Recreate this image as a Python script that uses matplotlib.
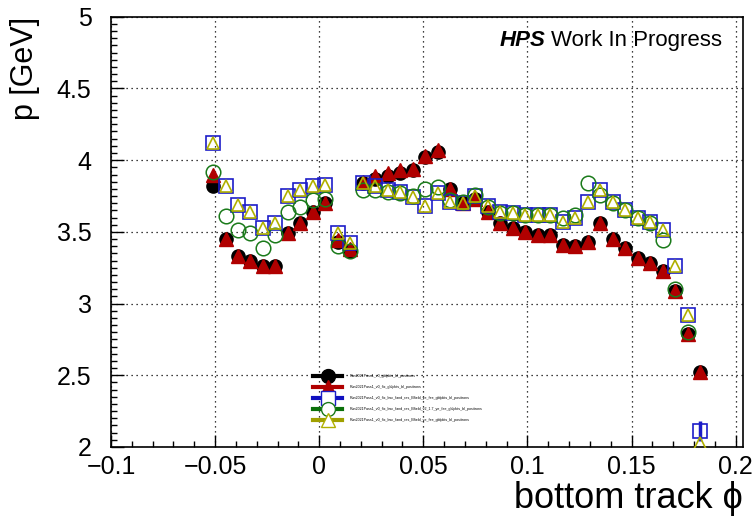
import numpy as np
import matplotlib
matplotlib.use("Agg")
import matplotlib.pyplot as plt
from matplotlib.lines import Line2D
from matplotlib.ticker import MultipleLocator, FuncFormatter

plt.rcParams['font.family'] = ['Liberation Sans', 'DejaVu Sans']

# bin centres of bottom track phi
phi = [-0.051 + 0.006 * i for i in range(40)]

p_black = [3.82, 3.45, 3.33, 3.30, 3.26, 3.26, 3.49, 3.56, 3.64, 3.70,
           3.43, 3.37, 3.84, 3.87, 3.89, 3.91, 3.93, 4.02, 4.06, 3.80,
           3.70, 3.73, 3.64, 3.56, 3.53, 3.50, 3.48, 3.48, 3.41, 3.40,
           3.43, 3.56, 3.45, 3.39, 3.32, 3.28, 3.23, 3.09, 2.79, 2.52]
p_red = [3.90, 3.45, 3.33, 3.30, 3.26, 3.26, 3.49, 3.56, 3.64, 3.70,
         3.44, 3.38, 3.85, 3.89, 3.91, 3.93, 3.94, 4.03, 4.07, 3.80,
         3.70, 3.73, 3.64, 3.56, 3.53, 3.50, 3.48, 3.48, 3.41, 3.40,
         3.43, 3.56, 3.45, 3.39, 3.32, 3.28, 3.23, 3.09, 2.79, 2.52]
p_blue = [4.12, 3.82, 3.69, 3.64, 3.53, 3.56, 3.75, 3.79, 3.82, 3.83,
          3.49, 3.42, 3.84, 3.82, 3.79, 3.78, 3.74, 3.68, 3.77, 3.71,
          3.70, 3.75, 3.68, 3.64, 3.63, 3.62, 3.62, 3.62, 3.57, 3.60,
          3.71, 3.79, 3.71, 3.65, 3.60, 3.57, 3.51, 3.26, 2.92, 2.11]
p_green = [3.92, 3.61, 3.51, 3.49, 3.39, 3.48, 3.64, 3.67, 3.72, 3.73,
           3.40, 3.37, 3.79, 3.79, 3.78, 3.77, 3.75, 3.80, 3.81, 3.72,
           3.71, 3.76, 3.67, 3.63, 3.63, 3.62, 3.62, 3.62, 3.60, 3.62,
           3.84, 3.76, 3.70, 3.65, 3.60, 3.56, 3.44, 3.10, 2.80, np.nan]
p_yellow = [4.12, 3.82, 3.69, 3.64, 3.53, 3.56, 3.75, 3.79, 3.82, 3.83,
            3.49, 3.42, 3.84, 3.82, 3.79, 3.78, 3.74, 3.68, 3.77, 3.71,
            3.70, 3.75, 3.68, 3.64, 3.63, 3.62, 3.62, 3.62, 3.57, 3.60,
            3.71, 3.79, 3.71, 3.65, 3.60, 3.57, 3.51, 3.26, 2.92, 2.03]
blue_err = [0.0] * 39 + [0.07]

labels = ["Run2021Pass1_v0_gblpkts_bl_positrons",
          "Run2021Pass1_v0_fix_gblpkts_bl_positrons",
          "Run2021Pass1_v0_fix_bsc_fand_res_Bfield_ye_fee_gblpkts_bl_positrons",
          "Run2021Pass1_v0_fix_bsc_fand_res_Bfield_v2_1.7_ye_fee_gblpkts_bl_positrons",
          "Run2021Pass1_v0_fix_bsc_fand_res_Bfield_ye_fee_gblpkts_bl_positrons"]

c_black = "black"
c_red = "#b00000"
c_blue = "#1c1cc8"
c_green = "#1a7a1a"
c_yellow = "#b0b000"

fig = plt.figure(figsize=(7.55, 5.24), dpi=100)
ax = fig.add_axes([0.147, 0.147, 0.837, 0.821])

ms = 9.5
ax.plot(phi, p_black, 'o', ms=ms, color=c_black, zorder=3)
ax.plot(phi, p_red, '^', ms=ms, color=c_red, zorder=4)
ax.errorbar(phi, p_blue, yerr=blue_err, fmt='s', ms=ms, mfc='none', mec=c_blue,
            mew=1.2, ecolor=c_blue, elinewidth=2.5, capsize=0, zorder=5)
ax.plot(phi, p_green, 'o', ms=ms + 1, mfc='none', mec=c_green, mew=1.1, zorder=6)
ax.plot(phi, p_yellow, '^', ms=ms - 1, mfc='none', mec=c_yellow, mew=1.2, zorder=7)

ax.set_xlim(-0.1, 0.2035)
ax.set_ylim(2, 5)

ax.xaxis.set_major_locator(MultipleLocator(0.05))
ax.xaxis.set_minor_locator(MultipleLocator(0.01))
ax.yaxis.set_major_locator(MultipleLocator(0.5))
ax.yaxis.set_minor_locator(MultipleLocator(0.05))
fmt = FuncFormatter(lambda v, pos: ("%g" % round(v, 3)).replace("-", "\u2212"))
ax.xaxis.set_major_formatter(fmt)
ax.yaxis.set_major_formatter(fmt)
ax.tick_params(which='both', direction='in', top=False, right=False,
               labelsize=18, width=1)
ax.tick_params(which='major', length=9)
ax.tick_params(which='minor', length=4.5)
ax.tick_params(axis='x', pad=6)
ax.tick_params(axis='y', pad=14)
ax.grid(True, which='major', linestyle=(0, (1, 3)), color='black', linewidth=0.9)
ax.set_axisbelow(True)
for s in ax.spines.values():
    s.set_linewidth(1.2)

ax.set_ylabel("p [GeV]", fontsize=22, loc='top', labelpad=12)
ax.set_xlabel("bottom track \u03d5", fontsize=26, loc='right', labelpad=1)

ax.text(0.967, 0.944, "Work In Progress", transform=ax.transAxes,
        fontsize=16, ha='right', va='center')
ax.text(0.687, 0.944, "HPS", transform=ax.transAxes, fontsize=16,
        ha='right', va='center', fontweight='bold', fontstyle='italic')

handles = [
    Line2D([], [], color=c_black, lw=3, marker='o', ms=10),
    Line2D([], [], color=c_red, lw=3, marker='^', ms=10),
    Line2D([], [], color='#1010c0', lw=3, marker='s', ms=10, mfc='white', mec=c_blue),
    Line2D([], [], color='#0a700a', lw=3, marker='o', ms=10, mfc='white', mec=c_green),
    Line2D([], [], color='#a0a000', lw=3, marker='^', ms=10, mfc='white', mec=c_yellow),
]
ax.legend(handles, labels, loc='upper left', bbox_to_anchor=(0.318, 0.172),
          frameon=False, fontsize=2.6, handlelength=8.0, handletextpad=2.0,
          labelspacing=1.9, borderaxespad=0)

fig.savefig("out.png", dpi=100)
